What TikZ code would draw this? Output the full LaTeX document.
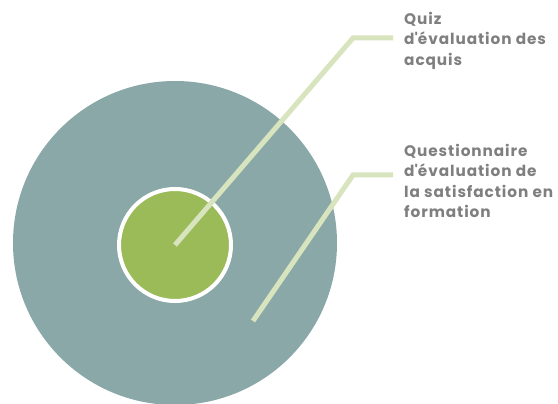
\documentclass[tikz,border=0pt]{standalone}
\usepackage{fontspec}
\setmainfont{Poppins}[LetterSpace=6]
\usepackage{xcolor}
\usepackage{tikz}
\usetikzlibrary{positioning}

\definecolor{outerfill}{HTML}{8BA8A9}
\definecolor{innerfill}{HTML}{9BBB59}
\definecolor{leadercol}{HTML}{D7E4BD}
\definecolor{labelcol}{HTML}{7F7F7F}

\begin{document}
\begin{tikzpicture}[
    x=1pt, y=-1pt,
    font=\fontsize{15.3}{20.5}\selectfont\bfseries
]
\tikzset{
    outerdisc/.style = {circle, fill=outerfill, minimum size=324pt, inner sep=0pt},
    innerdisc/.style = {circle, fill=innerfill, draw=white, line width=4pt, minimum size=112pt, inner sep=0pt},
    leader/.style = {draw=leadercol, line width=5pt},
    labeltext/.style = {anchor=north west, align=left, text=labelcol, inner sep=0pt}
}
\useasboundingbox (0,0) rectangle (558,404);
% the two discs
\node[outerdisc] (outer) at (175,243) {};
\node[innerdisc] (inner) at (175,245) {};
% labels
\node[labeltext] (quiz) at (404,12) {Quiz\\d\textquotesingle évaluation des\\acquis};
\node[labeltext] (quest) at (404,144) {Questionnaire\\d\textquotesingle évaluation de\\la satisfaction en\\formation};
% leader lines
\coordinate (quizbend) at (353,38);
\coordinate (quizend) at (393,38);
\coordinate (queststart) at (253,321);
\coordinate (questbend) at (353,175);
\coordinate (questend) at (393,175);
\draw[leader] (inner.center) -- (quizbend) -- (quizend);
\draw[leader] (queststart) -- (questbend) -- (questend);
\end{tikzpicture}
\end{document}
